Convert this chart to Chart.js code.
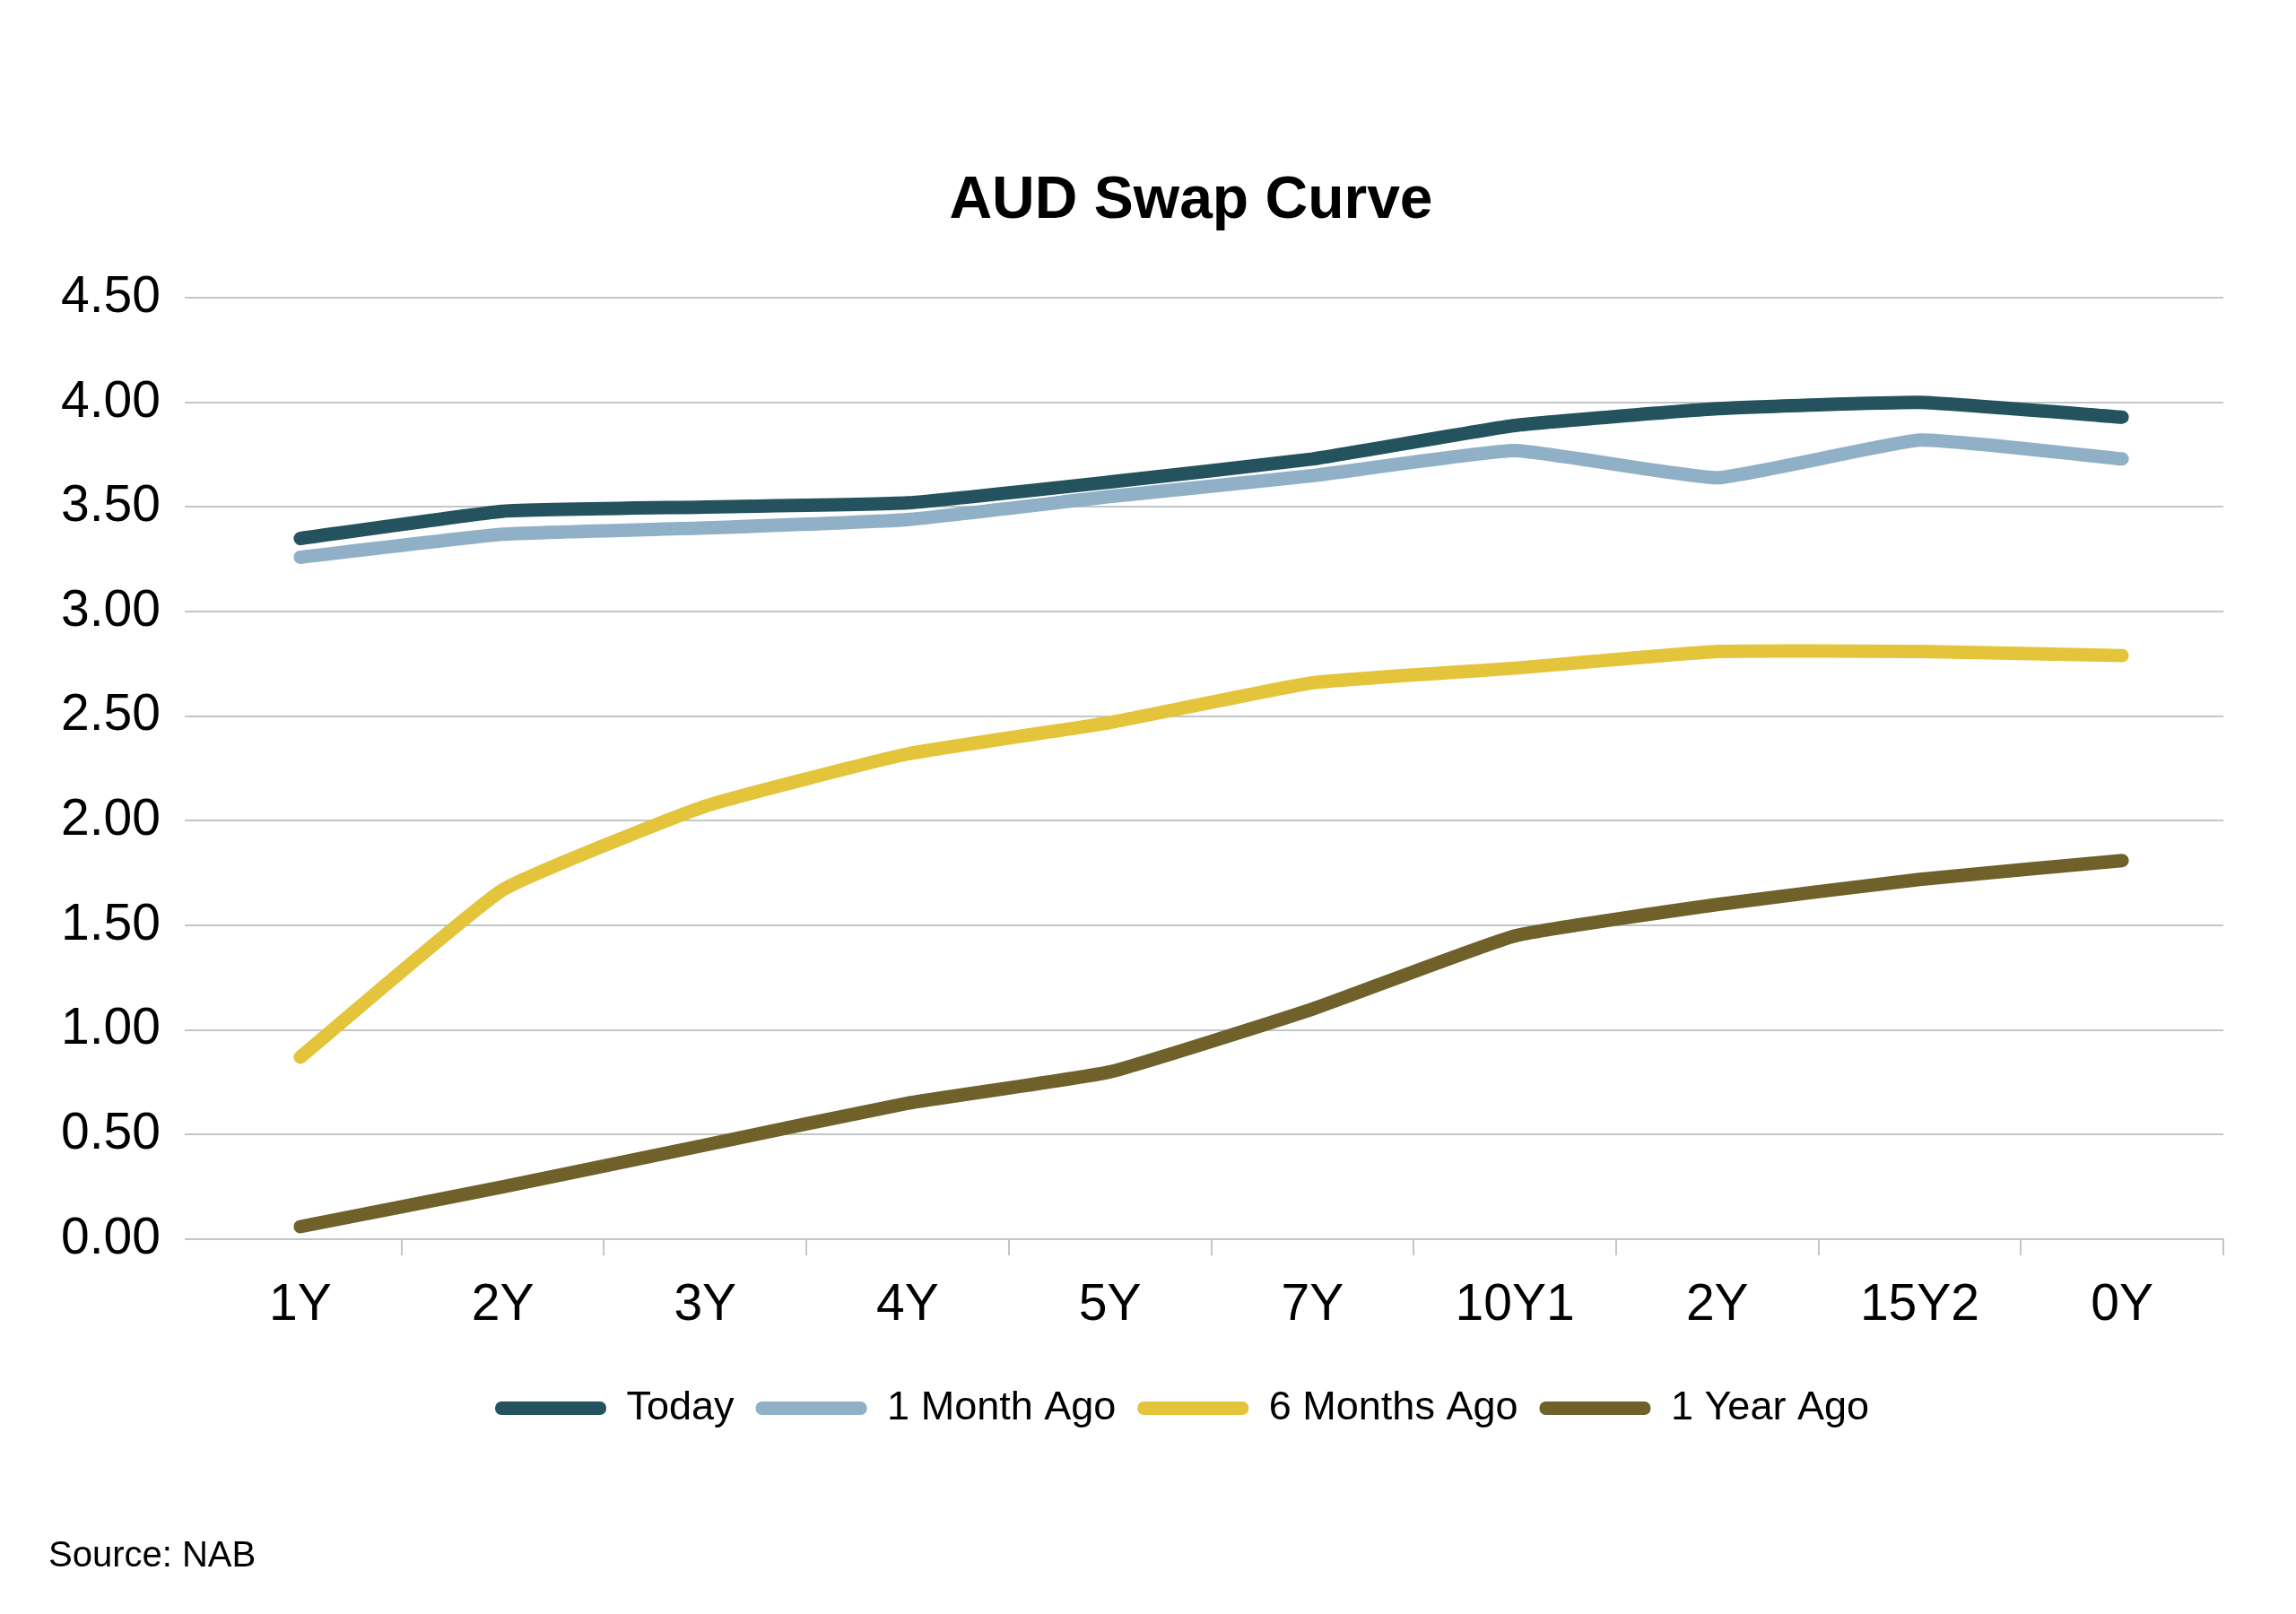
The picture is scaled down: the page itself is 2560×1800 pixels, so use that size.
<!DOCTYPE html>
<html>
<head>
<meta charset="utf-8">
<script src="https://cdn.jsdelivr.net/npm/chart.js@4"></script>
<style>
  html, body { margin: 0; padding: 0; background: #fff; }
  #wrap { width: 2560px; height: 1800px; position: relative; }
</style>
</head>
<body>
<div id="wrap"><canvas id="chartSwap"></canvas></div>
<script>
const tenorLabels = ['1Y', '2Y', '3Y', '4Y', '5Y', '7Y', '10Y1', '2Y', '15Y2', '0Y'];
const todayData = [3.35, 3.48, 3.50, 3.52, 3.62, 3.73, 3.89, 3.97, 4.00, 3.93];
const monthAgoData = [3.26, 3.37, 3.40, 3.44, 3.55, 3.65, 3.77, 3.64, 3.82, 3.73];
const sixMonthsData = [0.87, 1.67, 2.07, 2.32, 2.47, 2.66, 2.73, 2.81, 2.81, 2.79];
const yearAgoData = [0.06, 0.25, 0.45, 0.65, 0.80, 1.10, 1.45, 1.60, 1.72, 1.81];
const seriesNames = ['Today', '1 Month Ago', '6 Months Ago', '1 Year Ago'];
const COLORS = ['#24525f', '#8fb0c6', '#e3c43b', '#6f6129'];

const FONT = '"Liberation Sans", Arial, Helvetica, sans-serif';
const GRID = '#c3c6c8';

Chart.defaults.font.family = FONT;
Chart.defaults.color = '#000';

// title and legend sit a little right of the page centre in the original
const nudgeBlocks = {
    id: 'nudgeBlocks',
    afterLayout(chart) {
        const t = chart.titleBlock, l = chart.legend;
        if (t) { t.left += 54; t.right += 54; }
        if (l) { l.left += 44; l.right += 44; }
    }
};

const sourceNote = {
    id: 'sourceNote',
    afterDraw(chart) {
        const c = chart.ctx;
        c.save();
        c.font = '40px ' + FONT;
        c.fillStyle = '#000';
        c.textAlign = 'left';
        c.textBaseline = 'middle';
        c.fillText('Source: NAB', 54, 1736);
        c.restore();
    }
};

const line = (i, data) => ({
    label: seriesNames[i],
    data: data,
    borderColor: COLORS[i],
    backgroundColor: COLORS[i],
    borderWidth: 15,
    borderCapStyle: 'round',
    borderJoinStyle: 'round',
    pointRadius: 0,
    tension: 0.12,
    fill: false,
});

new Chart(document.getElementById('chartSwap'), {
    type: 'line',
    data: {
        labels: tenorLabels,
        datasets: [
            line(0, todayData),
            line(1, monthAgoData),
            line(2, sixMonthsData),
            line(3, yearAgoData),
        ]
    },
    options: {
        responsive: true,
        maintainAspectRatio: false,
        animation: false,
        layout: { padding: { left: 69, right: 81, top: 0, bottom: 197 } },
        plugins: {
            title: {
                display: true,
                text: 'AUD Swap Curve',
                font: { size: 66, weight: 'bold' },
                color: '#000',
                padding: { top: 185, bottom: 68 }
            },
            legend: {
                position: 'bottom',
                labels: {
                    boxWidth: 124,
                    boxHeight: 15,
                    useBorderRadius: true,
                    borderRadius: 7,
                    padding: 24,
                    font: { size: 45 },
                    color: '#000',
                    generateLabels(chart) {
                        return Chart.defaults.plugins.legend.labels.generateLabels(chart)
                            .map(l => Object.assign(l, { lineWidth: 0 }));
                    }
                }
            },
            tooltip: { enabled: false }
        },
        scales: {
            x: {
                offset: true,
                grid: { offset: true, drawOnChartArea: false, drawTicks: true, tickLength: 18, lineWidth: 2,
                        color: ctx => ctx.index === 0 ? 'rgba(0,0,0,0)' : GRID },
                border: { display: true, color: GRID, width: 2 },
                ticks: { font: { size: 57 }, color: '#000', padding: 22, maxRotation: 0, autoSkip: false },
                afterFit: s => { s.height = 142; }
            },
            y: {
                min: 0,
                max: 4.5,
                grid: { color: GRID, lineWidth: 2, tickLength: 16 },
                border: { display: false },
                ticks: { stepSize: 0.5, font: { size: 57 }, color: '#000', padding: 27,
                         callback: v => Number(v).toFixed(2) },
                afterFit: s => { s.width = 153; }
            }
        }
    },
    plugins: [nudgeBlocks, sourceNote]
});
</script>
</body>
</html>
